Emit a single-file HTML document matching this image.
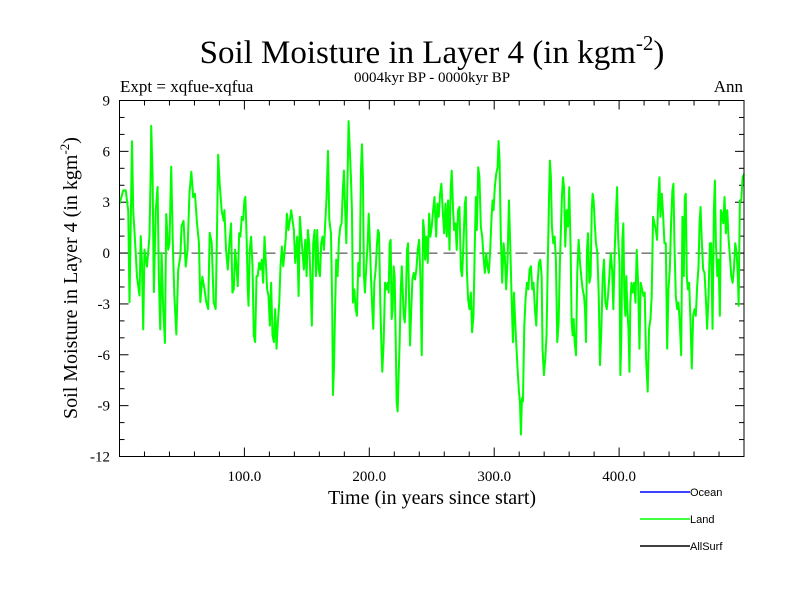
<!DOCTYPE html>
<html><head><meta charset="utf-8"><style>
html,body{margin:0;padding:0;background:#fff;}
svg{display:block;font-family:"Liberation Serif",serif;}
</style></head><body>
<svg id="chart" width="800" height="600" xmlns="http://www.w3.org/2000/svg">
<rect width="800" height="600" fill="#fff"/>
<text x="432" y="63" font-size="33" text-anchor="middle">Soil Moisture in Layer 4 (in kgm<tspan font-size="21" dy="-13">-2</tspan><tspan dy="13">)</tspan></text>
<text x="432" y="82" font-size="15" text-anchor="middle">0004kyr BP - 0000kyr BP</text>
<text x="120" y="92" font-size="17">Expt = xqfue-xqfua</text>
<text x="743" y="92" font-size="17" text-anchor="end">Ann</text>
<g id="grid"></g>
<g id="series"></g>
<rect x="119.5" y="100.5" width="624.5" height="356" fill="none" stroke="#000" stroke-width="1"/>
<text x="432" y="504" font-size="20" text-anchor="middle">Time (in years since start)</text>
<text transform="translate(77,278) rotate(-90)" font-size="20" text-anchor="middle">Soil Moisture in Layer 4 (in kgm<tspan font-size="13" dy="-8">-2</tspan><tspan dy="8">)</tspan></text>
<g font-family="Liberation Sans, sans-serif" font-size="11">
<line x1="640" y1="492" x2="690" y2="492" stroke="#0000ff" stroke-width="1.5"/>
<text x="690" y="496">Ocean</text>
<line x1="640" y1="519" x2="690" y2="519" stroke="#00ff00" stroke-width="1.5"/>
<text x="690" y="523">Land</text>
<line x1="640" y1="546" x2="690" y2="546" stroke="#000" stroke-width="1.5"/>
<text x="690" y="550">AllSurf</text>
</g>
</svg>
<script>
const years = [0,3,5,7,8,9,10,11,13,14,16,17,18,19,20,22,24,25,25.4,26.5,27.5,29,30.5,31.5,32.6,33.7,35,36.4,37.4,39,40,41.4,42.8,43.9,45.5,47,48.7,49.7,51.3,53,54.5,56,57.5,59,60.4,62,63.6,64.7,66.3,68,69.5,71,72.2,73.8,75.4,77,78,79,80.2,81.8,83.4,
84,85.3,86.7,88,89.3,90.4,91.5,92.6,93.6,94.7,95.8,96.8,97.9,99,100,100.8,101.9,102.7,103.3,104.3,105.4,106.5,107.5,108.6,109.7,110.7,111.8,112.9,113.9,115,116.1,117.2,118.2,119.3,120.4,121.4,122.5,123.6,124.6,125.7,126.8,127.9,128.9,130,131.1,132.1,133.2,134,135.3,136.4,137.5,138.5,139.6,140.7,142.3,143.4,144.4,145.5,146.6,147.6,148.7,149.8,150.8,151.9,153,154,155.1,156.2,157.3,158.3,159.4,160.5,161.5,162.6,163.7,164.7,165.8,166.9,168,
169.3,170.3,170.9,171.7,172.5,173.5,174.1,174.6,175.7,176.8,177.8,178.9,179.7,180.5,181.6,182.6,183.4,184.2,185.3,186.1,186.9,188,189.1,190.1,191.2,192.3,193.3,194.1,194.9,195.7,196.5,197.6,198.7,199.5,200.3,201.4,202.4,203.2,204,205.1,206.2,207,207.8,208.8,209.6,210.4,211.5,212.6,213.7,214.7,215.5,216.3,217.1,217.9,218.7,219.5,220.3,221.1,221.9,222.7,223.5,224.3,225.2,226,226.8,227.6,228.4,229.2,230.2,231,231.8,232.6,233.4,234.5,235.6,236.6,237.7,238.8,239.9,240.9,242,243.1,243.9,244.7,245.7,246.8,247.9,248.9,250,251.1,252.2,
253.5,254.5,255.6,256.7,257.7,258.8,259.9,261,262,263.1,264.2,265.2,266,267.1,267.9,269,270,271.1,272.2,273.3,274.3,275.4,276.5,277.3,278.1,279.1,280.2,281.3,282.3,283.4,284.5,285.3,286.1,287.2,288.2,289.3,290.4,291.4,292.5,293.6,294.6,295.7,296.8,297.9,298.7,299.5,300.5,301.6,302.7,303.5,304.3,305.3,306.4,307.5,308.5,309.6,310.7,311.8,312.8,313.9,315,315.8,316.6,317.6,318.7,319.8,320.6,321.4,322.2,323,324.1,325.1,326.2,327.3,328.3,329.4,330.5,331.5,332.6,333.7,334.8,335.8,336.9,338,
338.7,339.8,340.9,341.9,343,343.8,344.6,345.4,346.2,347.3,348.4,349.4,350.5,351.6,352.6,353.4,354.2,355.1,355.9,356.9,358,359.1,360.1,361.2,362,362.8,363.6,364.4,365.5,366.5,367.6,368.7,369.7,370.8,371.9,372.7,373.5,374.3,375.1,376.2,377.2,378.1,378.8,379.6,380.5,381.5,382.6,383.7,384.7,385.8,386.9,387.9,389,390.1,391.1,392.2,393.3,394.4,395.4,396.5,397.6,398.4,399.2,400.3,401,401.8,402.6,403.4,404.2,405,405.8,406.6,407.5,408.3,409,409.9,410.9,412,413.1,414.1,415.2,416.3,417.3,418.4,419.5,420.5,421.6,
422.9,424,425.1,426.1,427.2,428.3,429.4,430.4,431.5,432.3,433.1,434.2,435.2,436.3,437.4,438.5,439.5,440.6,441.7,442.7,443.5,444.3,445.4,446.5,447.5,448.6,449.7,450.7,451.8,452.6,453.4,454.2,455,456.1,457.2,458.2,459.3,460.4,461.4,462.5,463.6,464.4,465.2,466.3,467.3,468.4,469.5,470.5,471.6,472.7,473.7,474.8,475.9,476.7,477.5,478.6,479.6,480.7,481.5,482.3,483.4,484.4,485.5,486.6,487.7,488.7,489.8,490.9,491.9,493,494.1,495.1,495.7,496.7,497.8,498.9,500];
const landValues = [2.9,3.7,3.7,2.5,-2.9,1.7,6.6,2.5,0,-1.4,-2.5,1,-0.6,-4.5,0.2,-0.8,1,4.9,7.5,4.5,-2.3,2.5,3.9,-1.4,-4.5,0,-3.3,-5.3,2.3,0.2,0.6,5.1,0.2,-2.5,-4.8,-1,-0.2,1.6,1.9,-0.8,0.2,3.5,4.8,3.3,3.5,1.8,0.6,-2.9,-1.4,-2.1,-2.9,-3.3,1.2,0.6,-2.9,-3.3,1,5.8,4.1,2.5,1.9,
2.53,0.19,-0.97,0.58,1.75,-2.33,-2.14,0.19,-0.78,-1.95,1.17,0.97,2.14,1.95,3.11,3.31,0.58,-2.14,-3.11,0.19,0.97,-0.78,-4.86,-5.25,-1.36,-1.36,-0.58,-0.97,-0.39,-1.75,0.97,-0.58,-2.14,-2.53,-4.28,-1.75,-4.86,-5.25,-3.31,-5.64,-4.09,-2.92,-0.78,0.39,-0.78,0,0.97,2.33,1.36,1.95,2.53,1.95,1.36,-0.58,0.97,-2.53,2.14,0.97,0,-0.97,0.78,-1.36,1.36,0.58,-1.75,-4.28,0.58,1.36,-1.36,1.36,-0.97,-1.36,0.58,0.97,0.19,1.75,3.31,6.03,1.95,
1.17,-3.11,-8.37,-6.81,-3.7,-0.39,-0.58,-1.36,0.78,1.56,1.75,3.89,4.86,2.92,0.58,4.47,7.78,6.42,4.47,2.53,-2.92,-2.14,-3.31,-3.7,-0.58,-1.36,4.86,6.42,4.47,-1.36,-2.33,-0.78,0.58,2.33,0.97,-1.56,-3.31,-4.47,-1.75,-0.97,0.58,1.36,1.17,-2.92,-5.25,-7,-5.25,-1.75,-2.14,-1.75,-2.33,0.58,0.78,-3.89,-3.31,-0.78,-1.36,-4.86,-8.75,-9.34,-7.2,-5.25,-2.14,-0.78,-2.33,-3.7,-4.09,-2.92,0.19,0.58,-2.53,-5.45,-3.7,-1.56,-1.17,-1.56,-0.97,0.19,0.78,-1.36,-6.03,1.95,1.36,-0.39,0.97,-0.58,2.33,0.97,1.56,2.53,3.31,
0.97,2.92,2.14,3.5,4.09,2.53,1.17,2.92,0.97,3.11,0.19,3.89,4.86,2.53,1.36,1.75,0.19,2.53,2.72,-0.97,-1.36,0.58,2.92,3.31,-0.97,-2.72,-3.31,-2.33,-4.67,-3.7,0.58,3.31,1.36,5.06,4.47,1.56,0.97,-0.19,-1.17,0,-0.78,-1.17,0.19,2.14,3.11,2.53,3.89,4.67,5.06,6.61,5.45,0.97,-1.75,0.58,-0.19,-2.14,-0.39,3.11,0.58,-2.53,-5.25,-2.33,-3.7,-5.25,-6.81,-8.17,-8.75,-10.7,-8.56,-8.75,-4.28,-2.72,-1.75,-2.14,-0.97,-0.78,-2.14,-1.75,-3.31,-4.28,-1.75,-0.58,-0.39,-1.36,
-5.64,-7.2,-6.23,-4.86,-0.19,2.92,5.45,4.47,1.56,0.58,0.97,-0.39,-5.25,-4.09,-0.58,1.36,3.31,4.47,3.89,0.39,2.53,1.56,3.89,0.19,-4.09,-4.86,-3.89,-5.25,-6.03,-1.17,0.78,-0.58,-1.36,-2.14,-2.53,-3.31,-5.25,0.19,1.17,-1.75,-1.36,2.53,3.5,3.11,1.75,0.58,0,-2.53,-6.61,-4.47,-1.36,-0.39,-2.92,-3.31,-2.53,-1.36,0,-0.97,-3.31,0.19,2.53,3.89,0.97,-0.58,-7.2,-4.86,0.78,1.75,-2.53,-3.7,-1.36,-3.31,-4.47,-7,-2.92,-1.75,-2.33,-1.75,-2.92,0.19,-1.75,-5.64,-1.75,-2.14,-2.53,-2.33,-6.23,
-8.17,-4.47,-3.89,-2.53,2.14,1.75,1.36,0.78,3.5,4.47,2.14,3.5,2.33,0.58,0.58,-5.64,-2.14,-0.97,1.95,3.7,4.09,0.58,-2.53,-3.31,-2.92,-4.09,-6.03,2.14,-1.36,3.31,3.5,-1.36,-2.14,-1.75,-4.09,-6.81,-3.7,-3.31,-3.7,-1.95,-0.78,1.75,2.72,0.58,-0.97,-1.17,-2.72,-4.47,-2.53,0.58,0.58,-4.47,2.53,4.28,0.58,-1.36,-0.39,-3.7,2.53,2.33,1.75,3.31,1.17,2.53,0.78,-0.19,-1.36,-1.75,-0.97,0.58,0,-1.36,-3.11,3.11,3.11,4.47,4.67];
const xMajorTicks = [100, 200, 300, 400];
const xTickLabels = ["100.0", "200.0", "300.0", "400.0"];
const yTicks = [-12, -9, -6, -3, 0, 3, 6, 9];
const yTickLabels = ["-12", "-9", "-6", "-3", "0", "3", "6", "9"];

const NS = "http://www.w3.org/2000/svg";
const X0 = 119.5, X1 = 744, Y0 = 456.5, Y1 = 100.5;
const xMin = 0, xMax = 500, yMin = -12, yMax = 9;
function xs(v){ return X0 + (v - xMin) / (xMax - xMin) * (X1 - X0); }
function ys(v){ return Y0 - (v - yMin) / (yMax - yMin) * (Y0 - Y1); }
function mk(tag, attrs, parent){
  const e = document.createElementNS(NS, tag);
  for (const k in attrs) e.setAttribute(k, attrs[k]);
  parent.appendChild(e);
  return e;
}
const grid = document.getElementById("grid");
for (let v = yMin; v <= yMax; v++) {
  const major = (v % 3 === 0);
  const len = major ? 9 : 5;
  const y = ys(v);
  const t1 = mk("line", {x1: X0, y1: y, x2: X0 + len, y2: y, stroke: "#000", "stroke-width": 1}, grid);
  
  
  const t2 = mk("line", {x1: X1 - len, y1: y, x2: X1, y2: y, stroke: "#000", "stroke-width": 1}, grid);
  
  
}
yTicks.forEach((v, i) => {
  const t = mk("text", {x: 110, y: ys(v) + 5, "font-size": 15, "text-anchor": "end"}, grid);
  t.textContent = yTickLabels[i];
  
  
});
for (let v = 20; v < xMax; v += 20) {
  const major = (v % 100 === 0);
  const len = major ? 9 : 5;
  const x = xs(v);
  const b = mk("line", {x1: x, y1: Y0, x2: x, y2: Y0 - len, stroke: "#000", "stroke-width": 1}, grid);
  
  
  const tp = mk("line", {x1: x, y1: Y1, x2: x, y2: Y1 + len, stroke: "#000", "stroke-width": 1}, grid);
  
  
}
xMajorTicks.forEach((v, i) => {
  const t = mk("text", {x: xs(v), y: 481, "font-size": 15, "text-anchor": "middle"}, grid);
  t.textContent = xTickLabels[i];
  
  
});
const zl = mk("line", {x1: X0, y1: ys(0), x2: X1, y2: ys(0), stroke: "#000", "stroke-width": 1, "stroke-dasharray": "12,6", opacity: 0.8}, grid);



const series = document.getElementById("series");
let d = "";
years.forEach((yr, i) => {
  d += (i ? "L" : "M") + xs(yr).toFixed(2) + "," + ys(landValues[i]).toFixed(2);
});
const path = mk("path", {d: d, fill: "none", stroke: "#00ff00", "stroke-width": 2, "stroke-linejoin": "round"}, series);


</script>
</body></html>
